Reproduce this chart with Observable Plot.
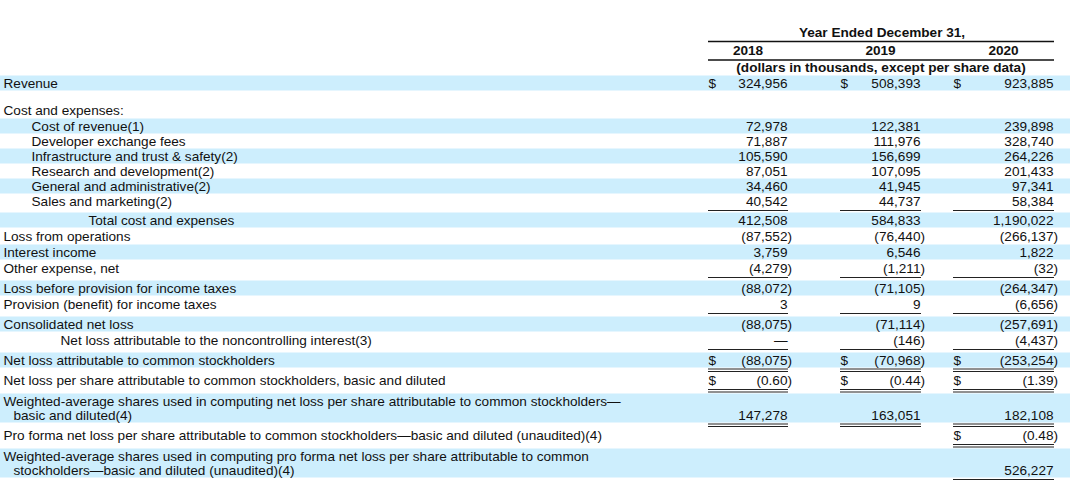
<!DOCTYPE html>
<html><head><meta charset="utf-8">
<script src="https://cdn.jsdelivr.net/npm/d3@7"></script>
<script src="https://cdn.jsdelivr.net/npm/@observablehq/plot@0.6"></script>
<style>
html,body{margin:0;padding:0;background:#fff;}
#chart svg{display:block;}
</style>
</head><body><div id="chart"></div>
<script>
// ---------- DATA ----------
const years = ["2018", "2019", "2020"];
const headerTitle = "Year Ended December 31,";
const headerUnits = "(dollars in thousands, except per share data)";

const labels = [
  "Revenue",
  "Cost and expenses:",
  "Cost of revenue(1)",
  "Developer exchange fees",
  "Infrastructure and trust & safety(2)",
  "Research and development(2)",
  "General and administrative(2)",
  "Sales and marketing(2)",
  "Total cost and expenses",
  "Loss from operations",
  "Interest income",
  "Other expense, net",
  "Loss before provision for income taxes",
  "Provision (benefit) for income taxes",
  "Consolidated net loss",
  "Net loss attributable to the noncontrolling interest(3)",
  "Net loss attributable to common stockholders",
  "Net loss per share attributable to common stockholders, basic and diluted",
  "Weighted-average shares used in computing net loss per share attributable to common stockholders—\nbasic and diluted(4)",
  "Pro forma net loss per share attributable to common stockholders—basic and diluted (unaudited)(4)",
  "Weighted-average shares used in computing pro forma net loss per share attributable to common\nstockholders—basic and diluted (unaudited)(4)"
];
const levels = [0,0,1,1,1,1,1,1,2,0,0,0,0,0,0,3,0,0,0,0,0];

const v2018 = [324956, null, 72978, 71887, 105590, 87051, 34460, 40542, 412508, -87552, 3759, -4279, -88072, 3, -88075, 0, -88075, -0.60, 147278, null, null];
const v2019 = [508393, null, 122381, 111976, 156699, 107095, 41945, 44737, 584833, -76440, 6546, -1211, -71105, 9, -71114, -146, -70968, -0.44, 163051, null, null];
const v2020 = [923885, null, 239898, 328740, 264226, 201433, 97341, 58384, 1190022, -266137, 1822, -32, -264347, -6656, -257691, -4437, -253254, -1.39, 182108, -0.48, 526227];

const dollarSign = [true,false,false,false,false,false,false,false,false,false,false,false,false,false,false,false,true,true,false,true,false];
const underline = ["","","","","","","","single","","","","single","","single","","single","double","double","double","double","single"];

// ---------- LAYOUT ----------
const W = 1080, H = 480;
const FONT = "'Liberation Sans', Arial, sans-serif";
const FS = 13.6;
const indentX = [3, 31, 88, 60];
const contX = 13;
const bandRight = 1070;
const cols = [
  {start: 708, right: 787},
  {start: 840, right: 920},
  {start: 953, right: 1053}
];
const parenW = 4.5;
const series = [v2018, v2019, v2020];

const rows = [];
let y = 83;
labels.forEach((lab, i) => {
  const lines = lab.split("\n");
  const centers = lines.map((_, k) => y + k * 14);
  const last = centers[centers.length - 1];
  rows.push({i, lines, centers, first: centers[0], last});
  const ul = underline[i];
  y = last + (levels[i] === 1 ? 15 : 16) + (ul === "single" ? 4 : ul === "double" ? 4.5 : 0) + (i === 0 ? 11 : 0);
});

const bands = rows.filter(r => r.i % 2 === 0).map(r => ({y1: r.first - 7.5, y2: r.last + 7.5}));

const labelTexts = [];
rows.forEach(r => r.lines.forEach((t, k) => labelTexts.push({
  x: k === 0 ? indentX[levels[r.i]] : contX, y: r.centers[k], text: t
})));

const fmtInt = d3.format(",");
function fmtVal(v) {
  if (v === 0) return "\u2014";
  const a = Math.abs(v);
  const s = Number.isInteger(a) ? fmtInt(a) : a.toFixed(2);
  return v < 0 ? "(" + s + ")" : s;
}

const valueTexts = [], dollarTexts = [], rules = [];
rows.forEach(r => {
  series.forEach((s, c) => {
    const v = s[r.i];
    if (v == null) return;
    valueTexts.push({x: cols[c].right + (v < 0 ? parenW : 0), y: r.last, text: fmtVal(v)});
    if (dollarSign[r.i]) dollarTexts.push({x: cols[c].start, y: r.last, text: "$"});
    const ul = underline[r.i];
    const x1 = cols[c].start, x2 = cols[c].right + 1;
    if (ul === "single") rules.push({y: r.last + 9, x1, x2});
    if (ul === "double") { rules.push({y: r.last + 8.5, x1, x2}); rules.push({y: r.last + 11, x1, x2}); }
  });
});

const headerTexts = [
  {x: (cols[0].start + cols[2].right) / 2 + 1, y: 32, text: headerTitle},
  ...years.map((t, c) => ({x: (cols[c].start + cols[c].right) / 2, y: 50.5, text: t})),
  {x: (cols[0].start + cols[2].right) / 2, y: 67.5, text: headerUnits}
];
const headerRules = [
  {y: 41, x1: cols[0].start, x2: cols[2].right + 1},
  {y: 59.5, x1: cols[0].start, x2: cols[2].right + 1}
];

const chart = Plot.plot({
  width: W, height: H,
  margin: 0,
  x: {domain: [0, W], range: [0, W], axis: null},
  y: {domain: [0, H], range: [0, H], axis: null},
  style: {fontFamily: FONT, fontSize: FS + "px", background: "#fff", color: "#111"},
  marks: [
    Plot.rect(bands, {x1: 0, x2: bandRight, y1: "y1", y2: "y2", fill: "#cdeefd"}),
    Plot.text(labelTexts, {x: "x", y: "y", text: "text", textAnchor: "start", fill: "#111", fontSize: FS}),
    Plot.text(valueTexts, {x: "x", y: "y", text: "text", textAnchor: "end", fill: "#111", fontSize: FS}),
    Plot.text(dollarTexts, {x: "x", y: "y", text: "text", textAnchor: "start", fill: "#111", fontSize: FS}),
    Plot.ruleY(rules, {y: "y", x1: "x1", x2: "x2", stroke: "#222", strokeWidth: 1}),
    Plot.text(headerTexts, {x: "x", y: "y", text: "text", textAnchor: "middle", fill: "#111", fontSize: FS, fontWeight: "bold"}),
    Plot.ruleY(headerRules, {y: "y", x1: "x1", x2: "x2", stroke: "#111", strokeWidth: 1.5})
  ]
});
document.getElementById("chart").appendChild(chart);
</script>
</body></html>
